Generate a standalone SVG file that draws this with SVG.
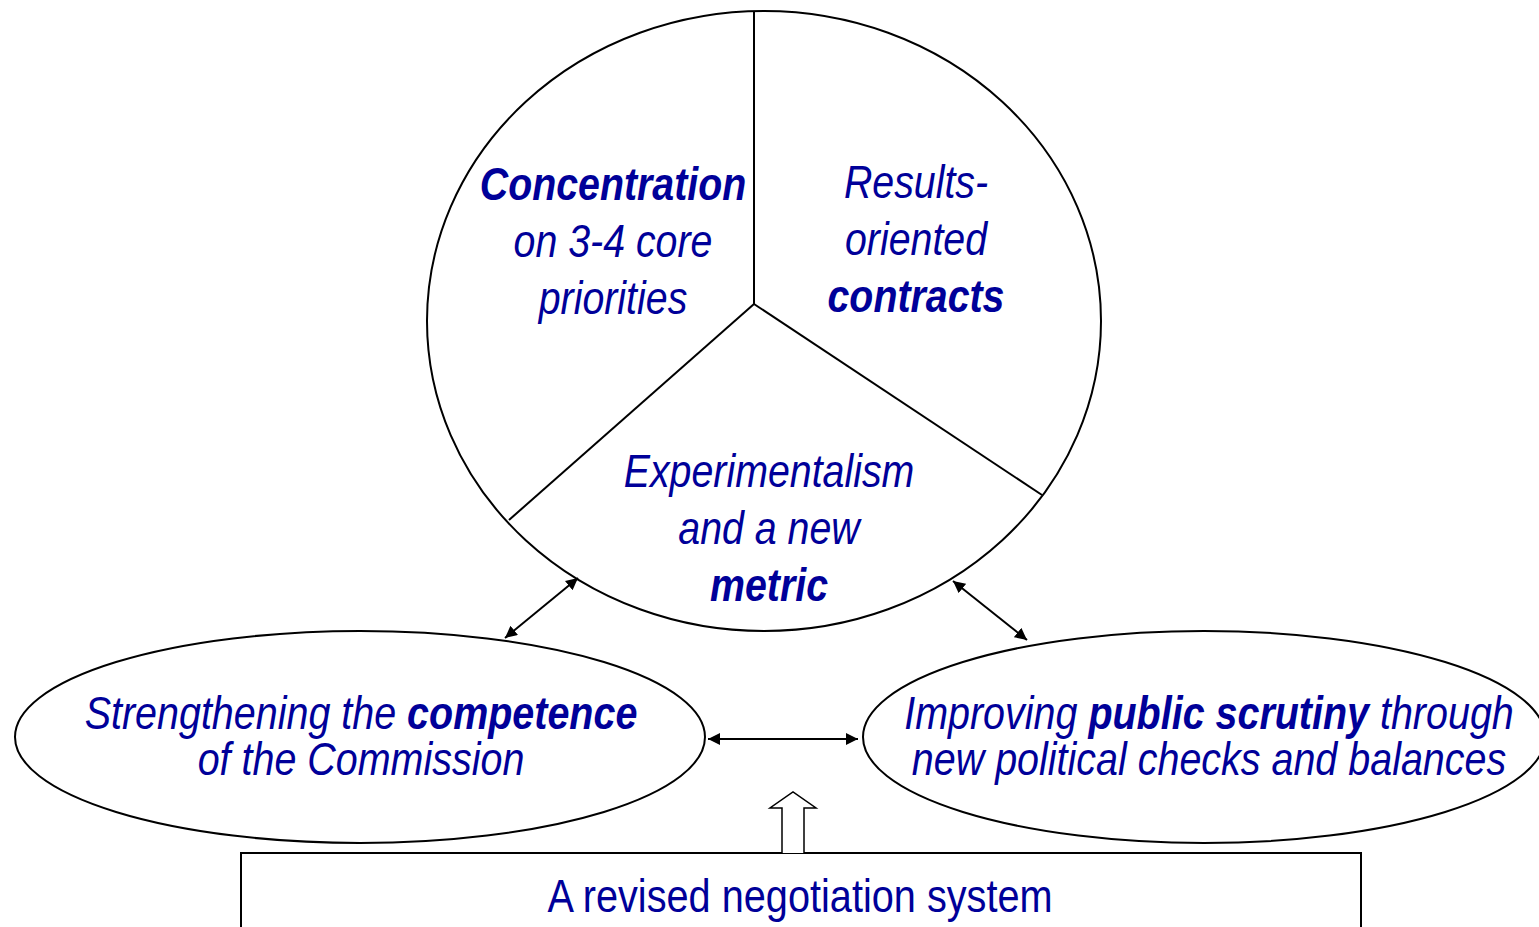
<svg xmlns="http://www.w3.org/2000/svg" width="1539" height="927" viewBox="0 0 1539 927">
<style>
.shape{fill:#fff;stroke:#000;stroke-width:2}
.ln{fill:none;stroke:#000;stroke-width:2}
.t{font-family:"Liberation Sans Narrow","Liberation Sans",Arial,sans-serif;font-size:46px;fill:#000099;text-anchor:middle;font-style:italic}
.b{font-weight:bold}
.n{font-style:normal}
</style>
<defs>
<marker id="ah" viewBox="0 0 10 10" refX="10" refY="5" markerWidth="12" markerHeight="12" markerUnits="userSpaceOnUse" orient="auto-start-reverse">
<path d="M0,0 L10,5 L0,10 z" fill="#000"/>
</marker>
</defs>
<rect width="1539" height="927" fill="#fff"/>
<g id="core">
<ellipse class="shape" cx="764" cy="321" rx="337" ry="310"/>
<line class="ln" x1="754" y1="11" x2="754" y2="304"/>
<line class="ln" x1="754" y1="304" x2="509" y2="520"/>
<line class="ln" x1="754" y1="304" x2="1042" y2="495"/>
<g transform="translate(613 0) scale(0.855 1)"><text class="t"><tspan x="0" y="200" class="b">Concentration</tspan><tspan x="0" y="257">on 3-4 core</tspan><tspan x="0" y="314">priorities</tspan></text></g>
<g transform="translate(916 0) scale(0.855 1)"><text class="t"><tspan x="0" y="198">Results-</tspan><tspan x="0" y="255">oriented</tspan><tspan x="0" y="312" class="b">contracts</tspan></text></g>
<g transform="translate(769 0) scale(0.855 1)"><text class="t"><tspan x="0" y="487">Experimentalism</tspan><tspan x="0" y="544">and a new</tspan><tspan x="0" y="601" class="b">metric</tspan></text></g>
</g>
<g id="competence">
<ellipse class="shape" cx="360" cy="737" rx="345" ry="106"/>
<g transform="translate(361 0) scale(0.858 1)"><text class="t"><tspan x="0" y="729">Strengthening the <tspan class="b">competence</tspan></tspan><tspan x="0" y="775">of the Commission</tspan></text></g>
</g>
<g id="scrutiny">
<ellipse class="shape" cx="1204" cy="737" rx="341" ry="106"/>
<g transform="translate(1209 0) scale(0.858 1)"><text class="t"><tspan x="0" y="729">Improving <tspan class="b">public scrutiny</tspan> through</tspan><tspan x="0" y="775">new political checks and balances</tspan></text></g>
</g>
<g id="negotiation">
<rect class="shape" x="241" y="853" width="1120" height="90"/>
<g transform="translate(800 0) scale(0.863 1)"><text class="t n" x="0" y="912">A revised negotiation system</text></g>
</g>
<g id="connectors">
<line class="ln" x1="578" y1="578" x2="505" y2="638" stroke-width="1.5" marker-start="url(#ah)" marker-end="url(#ah)"/>
<line class="ln" x1="953" y1="581" x2="1027" y2="640" stroke-width="1.5" marker-start="url(#ah)" marker-end="url(#ah)"/>
<line class="ln" x1="708" y1="739" x2="858" y2="739" stroke-width="1.5" marker-start="url(#ah)" marker-end="url(#ah)"/>
<path d="M782,853 L782,808 L770,808 L793,792 L816,808 L804,808 L804,853" fill="#fff" stroke="#000" stroke-width="1.5"/>
</g>
</svg>
